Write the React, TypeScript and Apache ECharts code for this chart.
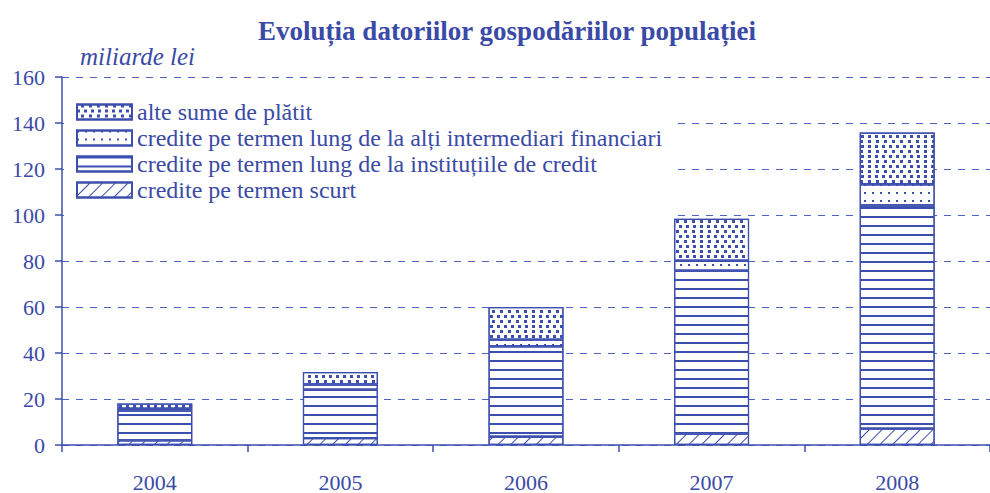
import React, { useEffect, useRef } from "react";
import * as echarts from "echarts";

const years = ["2004", "2005", "2006", "2007", "2008"];
const shortTerm = [2, 3, 3.6, 5, 7.1];
const longInst = [13, 21, 39.3, 70.8, 97];
const longOther = [0.8, 2.3, 2.9, 4.3, 9.3];
const otherSums = [2.2, 5.4, 14.2, 18.3, 22.5];

const names = {
  alte: "alte sume de plătit",
  other: "credite pe termen lung de la alți intermediari financiari",
  inst: "credite pe termen lung de la instituțiile de credit",
  short: "credite pe termen scurt",
};

const BLUE = "#3d4fae";
const TEXT = "#3a4aa6";
const FONT = "'Liberation Serif', 'Times New Roman', serif";

export default function App() {
  const ref = useRef<HTMLDivElement>(null);
  useEffect(() => {
    document.body.style.margin = "0";
    const chart = echarts.init(ref.current!, undefined, { renderer: "svg" });
    const base = (name: string, data: number[], decal: any) => ({
      name,
      type: "bar",
      stack: "total",
      barWidth: 75,
      data,
      itemStyle: {
        color: "#ffffff",
        borderColor: BLUE,
        borderWidth: 1.2,
        decal: Object.assign({ color: BLUE, backgroundColor: "#ffffff" }, decal),
      },
    });
    chart.setOption({
      animation: false,
      title: {
        text: "Evoluția datoriilor gospodăriilor populației",
        left: 502,
        textAlign: "center",
        top: 12,
        textStyle: { fontFamily: FONT, fontWeight: "bold", fontSize: 27, color: TEXT },
      },
      graphic: [
        {
          type: "text",
          left: 80,
          top: 44,
          style: {
            text: "miliarde lei",
            font: "italic 25px " + FONT,
            fill: TEXT,
          },
        },
      ],
      legend: {
        orient: "vertical",
        left: 64,
        top: 90,
        padding: [10, 10, 20, 12],
        backgroundColor: "#ffffff",
        itemWidth: 55,
        itemHeight: 15,
        itemGap: 2,
        icon: "rect",
        data: [names.alte, names.other, names.inst, names.short],
        textStyle: { fontFamily: FONT, fontSize: 24, color: TEXT },
      },
      grid: { left: 62, top: 77, width: 937.5, height: 373 },
      xAxis: {
        type: "category",
        data: years,
        axisLine: { lineStyle: { color: BLUE, width: 1.5 } },
        axisTick: { show: true, length: 7, lineStyle: { color: BLUE, width: 1.5 } },
        axisLabel: { margin: 26, fontFamily: FONT, fontSize: 22, color: TEXT },
      },
      yAxis: {
        type: "value",
        min: 0,
        max: 160,
        interval: 20,
        axisLine: { show: true, lineStyle: { color: BLUE, width: 1.5 } },
        axisTick: { show: true, length: 7, lineStyle: { color: BLUE, width: 1.5 } },
        axisLabel: { margin: 17, fontFamily: FONT, fontSize: 22, color: TEXT },
        splitLine: {
          show: true,
          lineStyle: { color: "#4f63c4", width: 1.2, type: [7, 7] },
        },
      },
      series: [
        base(names.short, shortTerm, {
          symbol: "rect",
          dashArrayX: [1, 0],
          dashArrayY: [1, 8],
          rotation: -Math.PI / 4,
        }),
        base(names.inst, longInst, {
          symbol: "rect",
          dashArrayX: [1, 0],
          dashArrayY: [1.6, 6.4],
          rotation: 0,
        }),
        base(names.other, longOther, {
          symbol: "rect",
          dashArrayX: [2, 6],
          dashArrayY: [2, 6],
          rotation: 0,
        }),
        base(names.alte, otherSums, {
          symbol: "rect",
          dashArrayX: [
            [3, 4],
            [0, 3.5, 3, 0.5],
          ],
          dashArrayY: [3, 2],
          rotation: 0,
        }),
      ],
    });
    return () => chart.dispose();
  }, []);
  return (
    <div
      ref={ref}
      style={{ position: "fixed", left: 0, top: 0, width: 990, height: 493, background: "#fff" }}
    />
  );
}
